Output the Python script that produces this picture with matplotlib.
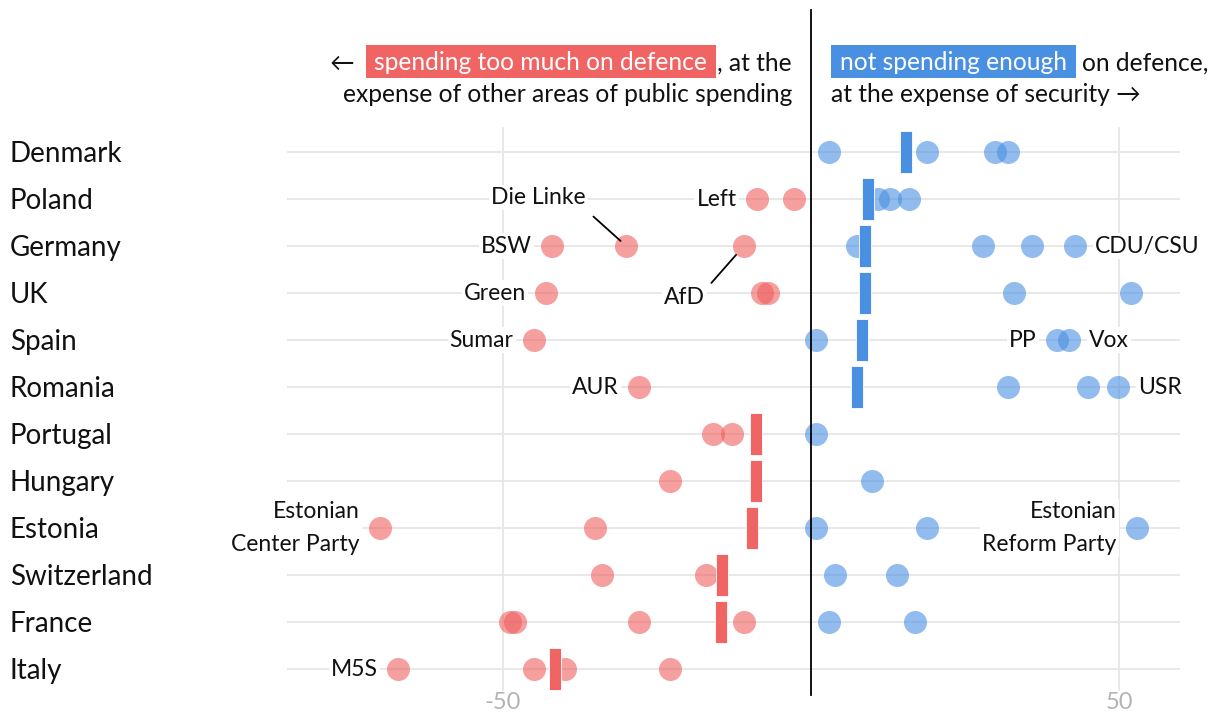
import matplotlib
matplotlib.use("Agg")
import matplotlib.pyplot as plt
from matplotlib.transforms import IdentityTransform
from matplotlib.patches import Rectangle

# ---------------- data ----------------
countries = ["Denmark", "Poland", "Germany", "UK", "Spain", "Romania",
             "Portugal", "Hungary", "Estonia", "Switzerland", "France", "Italy"]
red_parties = [[], [-8.8, -2.8], [-42.0, -30.0, -10.9], [-43.0, -7.9, -7.0],
               [-45.0], [-27.9], [-15.9, -12.9], [-22.9], [-70.0, -35.0],
               [-33.9, -17.0], [-48.9, -48.1, -27.9, -10.9],
               [-67.0, -45.0, -40.0, -22.9]]
blue_parties = [[3.0, 18.9, 29.9, 31.9], [10.9, 12.8, 15.9],
                [7.5, 27.9, 35.9, 42.9], [33.0, 52.0], [0.8, 39.9, 41.9],
                [31.9, 44.9, 49.9], [0.8], [9.9], [0.8, 18.9, 52.9],
                [3.9, 13.9], [2.9, 16.9], []]
country_avg = [15.4, 9.2, 8.8, 8.8, 8.3, 7.5, -8.9, -9.0, -9.6, -14.4, -14.6, -41.6]
tick_values = [-50, 50]
tick_labels = ["-50", "50"]

# party labels: (country index, party value, label, side)
side_labels = [
    (1, -8.8, "Left", "left"),
    (2, -42.0, "BSW", "left"),
    (3, -43.0, "Green", "left"),
    (4, -45.0, "Sumar", "left"),
    (5, -27.9, "AUR", "left"),
    (11, -67.0, "M5S", "left"),
    (8, -70.0, "Estonian\nCenter Party", "left"),
    (2, 42.9, "CDU/CSU", "right"),
    (4, 39.9, "PP", "left"),
    (4, 41.9, "Vox", "right"),
    (5, 49.9, "USR", "right"),
    (8, 52.9, "Estonian\nReform Party", "left"),
]
# callout labels: (country index, value, label, text offset pt, line start pt, shrink pt)
callouts = [
    (2, -30.0, "Die Linke", (-63.4, 35.1), (-23.6, 21.2), 5.4),
    (2, -10.9, "AfD", (-43.0, -37.4), (-23.4, -26.6), 8.5),
]

RED = "#ef5f5f"
RED_BAR = "#f06464"
BLUE = "#4a90e2"
BLUE_BAR = "#4a90e2"
FONT = ["Lato", "DejaVu Sans"]
plt.rcParams["font.family"] = FONT

W, H = 1209, 713
fig = plt.figure(figsize=(W / 100, H / 100), dpi=100)
ax = fig.add_axes([0, 0, 1, 1])
ax.set_xlim(-131.66, 64.61)
ax.set_ylim(11.936, -3.234)
ax.axis("off")

rows = list(range(len(countries)))

# grid
ax.hlines(rows, -85.1, 59.9, color="#e6e6e6", lw=1.3, zorder=0)
for tv, tl in zip(tick_values, tick_labels):
    ax.axvline(tv, ymin=0.032, ymax=0.8205, color="#e6e6e6", lw=1.3, zorder=0)
    ax.text(tv, 11.72, tl, ha="center", va="center", fontsize=17, color="#b3b3b3")
ax.axvline(0, ymin=0.025, ymax=0.986, color="black", lw=1.3, zorder=4)

# dots
for i in rows:
    if red_parties[i]:
        ax.scatter(red_parties[i], [i] * len(red_parties[i]), s=275, color=RED,
                   alpha=0.6, linewidths=0, zorder=2)
    if blue_parties[i]:
        ax.scatter(blue_parties[i], [i] * len(blue_parties[i]), s=275, color=BLUE,
                   alpha=0.6, linewidths=0, zorder=2)

# average bars
bw = 1.95
for i, a in zip(rows, country_avg):
    col = BLUE_BAR if a > 0 else RED_BAR
    ax.barh(i, bw, left=a - bw / 2, height=0.88, color=col, edgecolor="white",
            linewidth=0.6, zorder=3)

# country labels
for i, c in zip(rows, countries):
    ax.text(10 / W, i + 0.04, c, transform=ax.get_yaxis_transform(), ha="left",
            va="center", fontsize=20, color="#111111")

# party labels
bbox = dict(facecolor="white", edgecolor="none", pad=1.5)
for i, v, lab, side in side_labels:
    dx = -14.6 if side == "left" else 14.4
    ax.annotate(lab, xy=(v, i), xytext=(dx, 0), textcoords="offset points",
                ha="right" if side == "left" else "left", va="center",
                fontsize=16.5, color="#111111", bbox=bbox, zorder=5,
                linespacing=1.75)
for i, v, lab, toff, lstart, shr in callouts:
    ax.annotate(lab, xy=(v, i), xytext=toff, textcoords="offset points",
                ha="center", va="center", fontsize=16.5, color="#111111",
                bbox=bbox, zorder=5)
    ax.annotate("", xy=(v, i), xytext=lstart, textcoords="offset points",
                arrowprops=dict(arrowstyle="-", color="black", lw=1.3,
                                shrinkA=0, shrinkB=shr), zorder=5)

# ---------------- header ----------------
fig.canvas.draw()
rend = fig.canvas.get_renderer()
idt = IdentityTransform()
FS = 17.7


def px(y_img):
    return H - y_img


def put(x, y_img, s, ha, color="#111111"):
    t = fig.text(x, px(y_img), s, transform=idt, ha=ha, va="center_baseline",
                 fontsize=FS, color=color, zorder=6)
    bb = t.get_window_extent(rend)
    return t, bb


y1, y2 = 61, 93
pad = 9
# left block
_, bb = put(792, y1, ", at the", "right")
rect_right = bb.x0 - 1
_, bbh = put(rect_right - pad, y1, "spending too much on defence", "right", "white")
rect_left = bbh.x0 - pad
fig.patches.append(Rectangle((rect_left, px(78)), rect_right - rect_left, 33,
                             transform=idt, facecolor=RED_BAR, edgecolor="none",
                             zorder=5))
put(rect_left - 11, y1, "\u2190", "right")
put(792, y2, "expense of other areas of public spending", "right")
# right block
rect_left = 831
_, bbh = put(rect_left + pad, y1, "not spending enough", "left", "white")
rect_right = bbh.x1 + pad
fig.patches.append(Rectangle((rect_left, px(78)), rect_right - rect_left, 33,
                             transform=idt, facecolor=BLUE_BAR, edgecolor="none",
                             zorder=5))
put(rect_right + 6, y1, "on defence,", "left")
put(831, y2, "at the expense of security \u2192", "left")

fig.savefig("out.png", dpi=100)
